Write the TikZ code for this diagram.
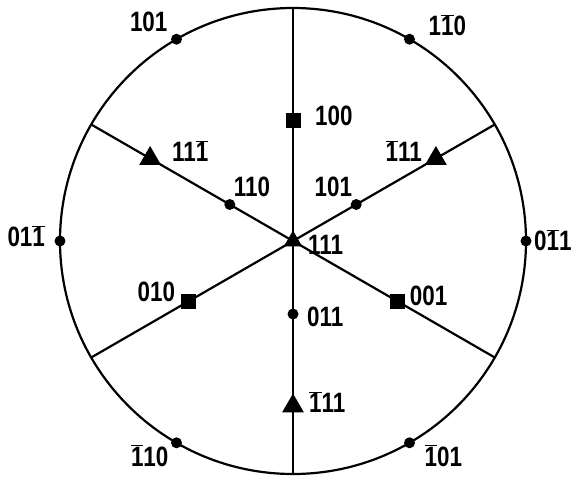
\documentclass[tikz,border=0pt]{standalone}
\usepackage{fontspec}
\setmainfont[FakeStretch=0.8]{Liberation Sans}
\usetikzlibrary{shapes.geometric}
\newcommand{\nb}[1]{$\overline{\mbox{#1}}$}

\tikzset{
  dot/.style={circle,fill,inner sep=0pt,minimum size=11pt},
  sqmark/.style={rectangle,fill,inner sep=0pt,minimum size=15pt},
  trimark/.style={regular polygon,regular polygon sides=3,fill,inner sep=0pt,minimum size=25pt},
  idx/.style={font=\fontsize{28}{28}\bfseries,inner sep=1pt}
}

\begin{document}
\begin{tikzpicture}[x=1pt,y=1pt,line width=2.2pt]
\useasboundingbox (-293,-236) rectangle (279,241);
\coordinate (c) at (0,0);
\draw (c) circle (233);
\draw (90:233) -- (270:233);
\draw (30:233) -- (210:233);
\draw (150:233) -- (330:233);
% poles on the three lines
\node[trimark,minimum size=21pt] (p111) at (c) {};
\node[idx,anchor=west] (l111) at (13,-4) {111};
\node[sqmark] (p100) at (90:121) {};
\node[idx,anchor=west] (l100) at (20,125) {100};
\node[sqmark] (p010) at (210:121) {};
\node[idx,anchor=south east] (l010) at ([shift={(-11,-2)}]p010) {010};
\node[sqmark] (p001) at (330:121) {};
\node[idx,anchor=west] (l001) at ([shift={(10,6)}]p001) {001};
\node[dot] (p110) at (150:73) {};
\node[idx,anchor=south west] (l110) at ([shift={(2,6)}]p110) {110};
\node[dot] (p101) at (30:73) {};
\node[idx,anchor=south east] (l101) at ([shift={(-2,6)}]p101) {101};
\node[dot] (p011) at (270:73) {};
\node[idx,anchor=west] (l011) at ([shift={(12,-3)}]p011) {011};
\node[trimark] (p11b) at (150:165) {};
\node[idx,anchor=south west] (l11b) at ([shift={(20,-5)}]p11b) {11\nb{1}};
\node[trimark] (pb11) at (30:165) {};
\node[idx,anchor=south east] (lb11) at ([shift={(-12,-5)}]pb11) {\nb{1}11};
\node[trimark] (pb11d) at (270:165) {};
\node[idx,anchor=west] (lb11d) at ([shift={(14,4)}]pb11d) {\nb{1}11};
% poles on the rim
\node[dot] (r0) at (0:233) {};
\node[idx,anchor=west] (lr0) at ([shift={(6,1)}]r0) {0\nb{1}1};
\node[dot] (r60) at (60:233) {};
\node[idx,anchor=south west] (lr60) at ([shift={(17,1)}]r60) {1\nb{1}0};
\node[dot] (r120) at (120:233) {};
\node[idx,anchor=south east] (lr120) at ([shift={(-7,5)}]r120) {101};
\node[dot] (r180) at (180:233) {};
\node[idx,anchor=east] (lr180) at ([shift={(-13,5)}]r180) {01\nb{1}};
\node[dot] (r240) at (240:233) {};
\node[idx,anchor=north east] (lr240) at ([shift={(-6,0)}]r240) {\nb{1}10};
\node[dot] (r300) at (300:233) {};
\node[idx,anchor=north west] (lr300) at ([shift={(13,0)}]r300) {\nb{1}01};
\end{tikzpicture}
\end{document}
